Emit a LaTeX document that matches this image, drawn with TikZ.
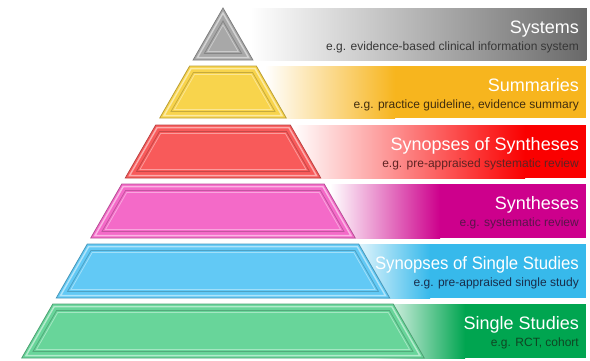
\documentclass[tikz,border=0pt]{standalone}
\usepackage{fontspec}
\setmainfont{Liberation Sans}

\definecolor{sys-fill}{RGB}{168,168,168}
\definecolor{sys-band}{RGB}{105,105,105}
\definecolor{sys-text}{RGB}{55,55,55}
\definecolor{sum-fill}{RGB}{248,212,76}
\definecolor{sum-band}{RGB}{247,181,30}
\definecolor{sum-text}{RGB}{65,45,15}
\definecolor{sos-fill}{RGB}{248,90,90}
\definecolor{sos-band}{RGB}{250,0,0}
\definecolor{sos-text}{RGB}{95,35,35}
\definecolor{syt-fill}{RGB}{244,106,200}
\definecolor{syt-band}{RGB}{205,0,140}
\definecolor{syt-text}{RGB}{90,20,75}
\definecolor{sss-fill}{RGB}{98,201,245}
\definecolor{sss-band}{RGB}{55,185,235}
\definecolor{sss-text}{RGB}{25,45,75}
\definecolor{ss-fill}{RGB}{104,213,154}
\definecolor{ss-band}{RGB}{0,165,80}
\definecolor{ss-text}{RGB}{15,70,35}

\tikzset{
  title/.style={anchor=base east, inner sep=0pt, text=white, font=\fontsize{18}{20}\selectfont},
  subtitle/.style={anchor=base east, inner sep=0pt, font=\fontsize{12}{14}\selectfont}
}

% one layer outline of the pyramid: top, bottom, inset, options
\newcommand{\pyrtrap}[4]{%
  \pgfmathsetmacro{\pyrYa}{max(#1+#3,8+2.005*#3)}%
  \pgfmathsetmacro{\pyrYb}{#2-#3}%
  \pgfmathsetmacro{\pyrXa}{max(0,(\pyrYa-8)*0.575-1.153*#3)}%
  \pgfmathsetmacro{\pyrXb}{max(0,(\pyrYb-8)*0.575-1.153*#3)}%
  \draw[#4] (223-\pyrXa,\pyrYa) -- (223+\pyrXa,\pyrYa) -- (223+\pyrXb,\pyrYb) -- (223-\pyrXb,\pyrYb) -- cycle;}

\begin{document}
\begin{tikzpicture}[x=1pt,y=-1pt]
  \useasboundingbox (0,0) rectangle (590,360);
  \foreach \nm/\yt/\yb/\gs/\ge/\xs/\ti/\su in {
      sys/8/60/250/586/1/Systems/{e.g. evidence-based clinical information system},
      sum/66/118/265/395/1/Summaries/{e.g. practice guideline, evidence summary},
      sos/125/178/292/525/1/Synopses of Syntheses/{e.g. pre-appraised systematic review},
      syt/184/238/330/440/1/Syntheses/{e.g. systematic review},
      sss/244/298/345/430/0.93/Synopses of Single Studies/{e.g. pre-appraised single study},
      ss/304/358/375/465/1/Single Studies/{e.g. RCT, cohort}} {
    % band behind the text
    \shade[left color=white, right color=\nm-band] (\gs,\yt) rectangle (\ge,\yb);
    \fill[\nm-band] (\ge-0.5,\yt) rectangle (586,\yb);
    % bevelled layer
    \pyrtrap{\yt}{\yb}{0}{fill=\nm-fill, draw=\nm-fill!75!black, line width=0.8pt}
    \pyrtrap{\yt}{\yb}{2.5}{draw=\nm-fill!50!white, line width=1.5pt}
    \pyrtrap{\yt}{\yb}{6.5}{draw=\nm-fill!80!black, line width=0.8pt}
    \pyrtrap{\yt}{\yb}{8.5}{draw=\nm-fill!60!white, line width=0.8pt}
    \node[title] (\nm-title) at (579,\yt+25) {\scalebox{\xs}[1]{\ti}};
    \node[subtitle, text=\nm-text] (\nm-sub) at (579,\yt+42) {\su};
  }
\end{tikzpicture}
\end{document}
